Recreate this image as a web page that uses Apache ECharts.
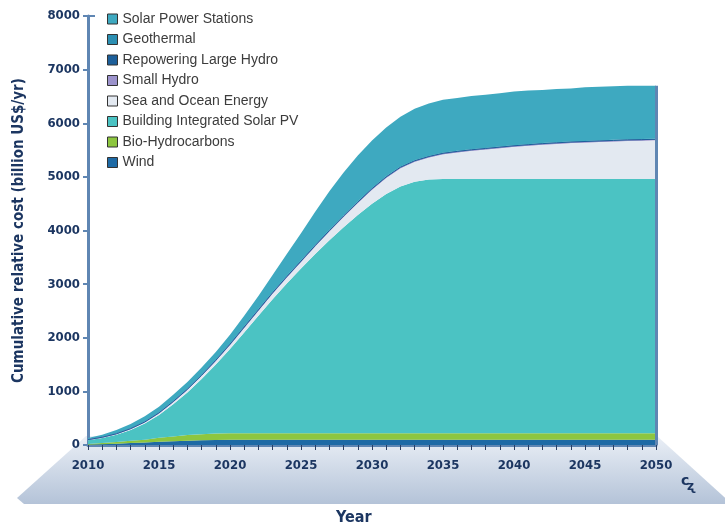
<!DOCTYPE html>
<html><head><meta charset="utf-8">
<script src="https://cdn.jsdelivr.net/npm/echarts@6/dist/echarts.min.js"></script>
<style>html,body{margin:0;padding:0;background:#fff}#c{width:725px;height:530px}</style>
</head><body><div id="c"></div>
<script>
var years = ['2010','2011','2012','2013','2014','2015','2016','2017','2018','2019','2020','2021','2022','2023','2024','2025','2026','2027','2028','2029','2030','2031','2032','2033','2034','2035','2036','2037','2038','2039','2040','2041','2042','2043','2044','2045','2046','2047','2048','2049','2050'];
var yTicks = [0,1000,2000,3000,4000,5000,6000,7000,8000];

var wind = [5,15,25,35,45,60,70,80,88,95,100,100,100,100,100,100,100,100,100,100,100,100,100,100,100,100,100,100,100,100,100,100,100,100,100,100,100,100,100,100,100];
var bioHydrocarbons = [15,22,30,42,55,75,90,105,113,118,120,120,120,120,120,120,120,120,120,120,120,120,120,120,120,120,120,120,120,120,120,120,120,120,120,120,120,120,120,120,120];
var buildingSolarPV = [70,93,135,203,300,425,600,795,1029,1287,1570,1880,2190,2500,2790,3070,3340,3600,3840,4070,4280,4460,4600,4690,4730,4740,4740,4740,4740,4740,4740,4740,4740,4740,4740,4740,4740,4740,4740,4740,4740];
var seaOcean = [4,9,14,19,24,30,40,50,60,70,74,84,94,104,114,124,144,164,194,224,260,300,340,370,410,460,495,525,550,575,600,620,640,655,670,680,690,700,710,715,720];
var smallHydro = [3,3,3,3,3,5,5,5,5,5,8,8,8,8,8,8,8,8,8,8,10,10,10,10,10,10,10,10,10,10,10,10,10,10,10,10,10,10,10,10,10];
var repoweringHydro = [3,3,3,3,3,5,5,5,5,5,8,8,8,8,8,8,8,8,8,8,10,10,10,10,10,10,10,10,10,10,10,10,10,10,10,10,10,10,10,10,10];
var geothermal = [5,5,5,5,5,5,5,5,5,5,10,10,10,10,10,10,10,10,10,10,10,10,10,10,10,10,10,10,10,10,10,10,10,10,10,10,10,10,10,10,10];
var solarStations = [25,40,65,80,100,110,120,130,140,150,165,200,250,320,410,510,620,720,800,860,890,910,930,960,980,990,985,995,990,995,1000,1000,990,995,990,1000,1000,1000,1000,995,990];

var names = ['Wind','Bio-Hydrocarbons','Building Integrated Solar PV','Sea and Ocean Energy','Small Hydro','Repowering Large Hydro','Geothermal','Solar Power Stations'];
var colors = ['#1e6aa5','#8dc63f','#4bc3c3','#e3e9f1','#9c93cc','#1d5f9a','#2c8fb2','#3ea9c0'];
var values = [wind,bioHydrocarbons,buildingSolarPV,seaOcean,smallHydro,repoweringHydro,geothermal,solarStations];

var last = years.length - 1;
var total2050 = 0;
values.forEach(function(a){ total2050 += a[last]; });

var chart = echarts.init(document.getElementById('c'), null, {renderer:'canvas'});
var series = names.map(function(n,i){
  var thin = (n === 'Small Hydro' || n === 'Repowering Large Hydro');
  var s = {
    name: n, type: 'line', stack: 'total', data: values[i],
    symbol: 'none', color: colors[i],
    lineStyle: {width: thin ? 1 : 0, color: colors[i]},
    areaStyle: {color: colors[i], opacity: 1},
    itemStyle: {color: colors[i]},
    emphasis: {disabled: true},
    z: 3
  };
  if (i === names.length - 1) {
    s.markLine = {
      silent: true, symbol: 'none', label: {show: false},
      lineStyle: {color: '#5f86b3', width: 3, type: 'solid'},
      data: [[{coord: [years[last], 0]}, {coord: [years[last], total2050]}]]
    };
  }
  return s;
});

var labelFont = "'Liberation Sans Narrow','DejaVu Sans Condensed',sans-serif";
chart.setOption({
  animation: false,
  backgroundColor: '#ffffff',
  grid: {left: 88, right: 69, top: 16, bottom: 85, containLabel: false, outerBoundsMode: 'none'},
  legend: {
    orient: 'vertical', left: 102, top: 7, itemWidth: 10, itemHeight: 10, itemGap: 6.5,
    icon: 'rect',
    itemStyle: {borderColor: '#333', borderWidth: 1},
    textStyle: {color: '#3c3c3c', fontSize: 14, fontFamily: "'Liberation Sans',Arial,sans-serif"},
    data: names.slice().reverse()
  },
  graphic: [
    {type: 'polygon', z: -10, silent: true,
     shape: {points: [[86,436],[657,436],[732,504],[24,504],[17,498]]},
     style: {fill: new echarts.graphic.LinearGradient(0,0,0,1,[{offset:0,color:'#eaeff6'},{offset:1,color:'#b4c3d8'}])}},
    {type: 'line', z: 10, silent: true, shape: {x1: 88, y1: 16, x2: 95, y2: 16}, style: {stroke: '#5f86b3', lineWidth: 2}},
    {type: 'text', left: 336, top: 510, z: 10, style: {text: 'Year', fill: '#1c3661', font: "bold 16px " + labelFont}},
    {type: 'text', left: 681, top: 474, z: 10, style: {text: 'c', fill: '#1c3661', font: "bold 14px 'DejaVu Sans'"}},
    {type: 'text', left: 687, top: 481, z: 10, style: {text: 'ʐ', fill: '#1c3661', font: "bold 12px 'DejaVu Sans'"}}
  ],
  xAxis: {
    type: 'category', data: years, boundaryGap: false,
    axisLine: {show: true, lineStyle: {color: '#5f86b3', width: 3}},
    axisTick: {show: true, interval: 0, length: 5, lineStyle: {color: '#2b3f63', width: 1}},
    axisLabel: {interval: 4, margin: 14, color: '#1c3661', fontWeight: 'bold', fontSize: 13, fontFamily: labelFont},
    splitLine: {show: false}
  },
  yAxis: {
    type: 'value', min: yTicks[0], max: yTicks[yTicks.length-1], interval: 1000,
    name: 'Cumulative relative cost (billion US$/yr)', nameLocation: 'middle', nameGap: 61,
    nameTextStyle: {color: '#1c3661', fontWeight: 'bold', fontSize: 15, fontFamily: labelFont},
    axisLine: {show: true, lineStyle: {color: '#5f86b3', width: 3}},
    axisTick: {show: true, length: 5, lineStyle: {color: '#5f86b3', width: 2}},
    axisLabel: {margin: 8, color: '#1c3661', fontWeight: 'bold', fontSize: 13, fontFamily: labelFont,
      formatter: function(v){ return String(v); }},
    splitLine: {show: false}
  },
  series: series
});
</script></body></html>
